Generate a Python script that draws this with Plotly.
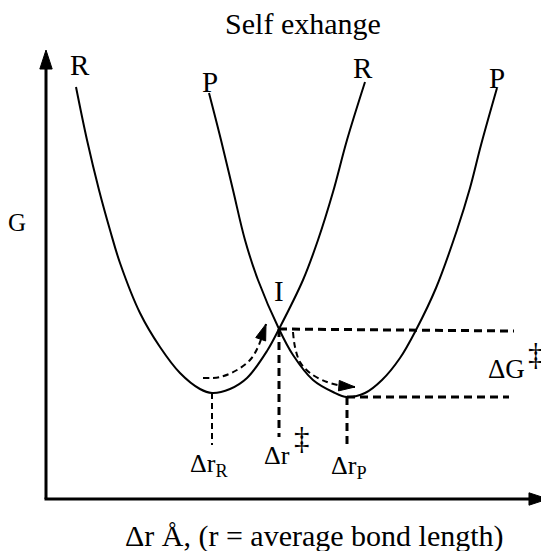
import plotly.graph_objects as go

# ---- data (arbitrary units; x = Δr, y = G) ----
r_curve_x = [30, 41, 53, 64, 74, 94, 114, 134, 154, 166, 184, 201, 221, 233, 257, 272, 287, 301, 319]
r_curve_g = [412, 359, 309, 269, 236, 186, 152, 126, 110, 106, 110, 121, 148, 170, 219, 259, 307, 359, 417]

p_curve_x = [163, 175, 187, 199, 212, 233, 247, 267, 287, 301, 319, 336, 354, 370, 390, 411, 424, 435, 451]
p_curve_g = [406, 359, 309, 259, 219, 170, 144, 119, 107, 102, 106, 119, 141, 169, 211, 269, 311, 354, 411]

# key points
r_min = (166, 106)
p_min = (301, 102)
cross_i = (233, 170)

# dashed guide ends
drop_r_end = 54
drop_i_end = 62
drop_p_end = 50
upper_h_end = (468, 168)
lower_h_end = (463, 102)

# reaction path arrows
path1_x = [157, 174, 191, 204, 212, 220]
path1_g = [121, 122, 129, 139, 152, 175]
path2_x = [247, 249, 254, 264, 281, 297, 309]
path2_g = [167, 152, 137, 126, 117, 113, 112]

# axes (origin and arrow tips)
x_axis_x = [-1.5, 502]
x_axis_g = [0, 0]
y_axis_x = [0, 0]
y_axis_g = [0, 449]

X_RANGE = [-38, 503]
Y_RANGE = [-52, 491]

FONT = "Liberation Serif, Times New Roman, serif"

fig = go.Figure()

fig.add_trace(go.Scatter(x=r_curve_x, y=r_curve_g, mode="lines",
                         line=dict(color="black", width=2, shape="spline", smoothing=1)))
fig.add_trace(go.Scatter(x=p_curve_x, y=p_curve_g, mode="lines",
                         line=dict(color="black", width=2, shape="spline", smoothing=1)))

# dashed drops
fig.add_trace(go.Scatter(x=[r_min[0], r_min[0]], y=[r_min[1], drop_r_end], mode="lines",
                         line=dict(color="black", width=2, dash="6px,4px")))
fig.add_trace(go.Scatter(x=[cross_i[0], cross_i[0]], y=[cross_i[1], drop_i_end], mode="lines",
                         line=dict(color="black", width=3, dash="8px,5px")))
fig.add_trace(go.Scatter(x=[p_min[0], p_min[0]], y=[p_min[1], drop_p_end], mode="lines",
                         line=dict(color="black", width=3, dash="8px,5px")))
# dashed horizontals
fig.add_trace(go.Scatter(x=[cross_i[0], upper_h_end[0]], y=[cross_i[1], upper_h_end[1]], mode="lines",
                         line=dict(color="black", width=3, dash="8px,5px")))
fig.add_trace(go.Scatter(x=[p_min[0], lower_h_end[0]], y=[p_min[1], lower_h_end[1]], mode="lines",
                         line=dict(color="black", width=3, dash="8px,5px")))

# reaction path arrows
for px_, pg_ in [(path1_x, path1_g), (path2_x, path2_g)]:
    n = len(px_)
    fig.add_trace(go.Scatter(
        x=px_, y=pg_, mode="lines+markers", cliponaxis=False,
        line=dict(color="black", width=2, dash="6px,4px", shape="spline"),
        marker=dict(symbol="arrow", size=[0] * (n - 1) + [17], angleref="previous",
                    color="#000000", opacity=1, line=dict(width=1, color="#000000")),
    ))

# axes with arrowheads
for ax_x, ax_g in [(x_axis_x, x_axis_g), (y_axis_x, y_axis_g)]:
    fig.add_trace(go.Scatter(
        x=ax_x, y=ax_g, mode="lines+markers", cliponaxis=False,
        line=dict(color="black", width=3),
        marker=dict(symbol="arrow", size=[0, 20], angleref="previous",
                    color="#000000", opacity=1, line=dict(width=1, color="#000000")),
    ))


def label(x, y, text, size, **kw):
    fig.add_annotation(x=x, y=y, xref="x", yref="y", text=text, showarrow=False,
                       font=dict(family=FONT, size=size, color="black"), **kw)


label(33.5, 434, "R", 29)
label(164, 417, "P", 29)
label(317, 431, "R", 29)
label(451, 421, "P", 29)
label(-29, 277, "G", 25)
label(233, 208, "I", 29)
label(460, 130, "ΔG", 27)
label(489.5, 145, "‡", 31)
label(231, 44, "Δr", 26)
label(256, 61, "‡", 31)
label(142, 34, "Δr<sub>R</sub>", 26, xanchor="left")
label(283, 32, "Δr<sub>P</sub>", 26, xanchor="left")
label(268, -37, "Δr Å, (r = average bond length)", 30)

fig.update_layout(
    width=541, height=543,
    margin=dict(l=0, r=0, t=0, b=0),
    paper_bgcolor="white", plot_bgcolor="white",
    showlegend=False,
    title=dict(text="Self exhange", x=295 / 541, xanchor="center", xref="container",
               y=1 - 15 / 543, yanchor="middle", yref="container",
               font=dict(family=FONT, size=30, color="black")),
    xaxis=dict(range=X_RANGE, visible=False, fixedrange=True),
    yaxis=dict(range=Y_RANGE, visible=False, fixedrange=True),
)

fig.write_html("out.html")
